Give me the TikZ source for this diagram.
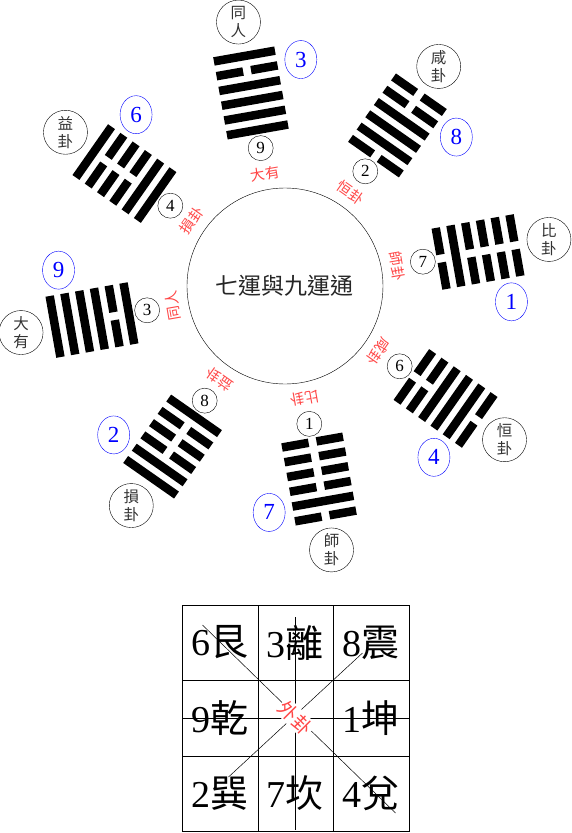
\documentclass[tikz,border=0pt]{standalone}
\usepackage{fontspec}
\setmainfont{Liberation Serif}
\newfontfamily\cjk{Noto Sans CJK TC}
\usepackage{xcolor}
\usepackage{tikz}
\usetikzlibrary{shapes.geometric,positioning}

\definecolor{labelred}{RGB}{255,70,70}
\definecolor{numblue}{RGB}{0,0,255}

\begin{document}
\begin{tikzpicture}[
    x=1pt, y=1pt,
    yangbar/.style={rectangle, fill=black, minimum width=62pt, minimum height=8.5pt, inner sep=0pt},
    yinbar/.style={rectangle, fill=black, minimum width=27pt, minimum height=8.5pt, inner sep=0pt},
    innername/.style={font=\cjk\fontsize{14.5}{14.5}\selectfont, text=labelred, inner sep=0pt},
    yaonum/.style={circle, draw, minimum size=25pt, inner sep=0pt, font=\fontsize{17}{17}\selectfont},
    outername/.style={circle, draw, minimum size=44pt, inner sep=0pt, align=center, text=black!80, font=\cjk\fontsize{15.5}{18}\selectfont},
    yunnum/.style={ellipse, draw=numblue, text=numblue, minimum width=32pt, minimum height=38pt, inner sep=0pt, font=\fontsize{23}{23}\selectfont},
    gridcell/.style={rectangle, draw, minimum size=75.5pt, inner sep=0pt, font=\fontsize{38}{38}\selectfont},
    crossline/.style={draw, line width=0.5pt}
]
\useasboundingbox (-285,-547) rectangle (287,286);

% centre
\node[circle, draw, minimum size=196pt, inner sep=0pt, font=\cjk\fontsize{23}{23}\selectfont, text=black!85] (core) at (0,0) {七運與九運通};

% 大有 / 同人 (top)
\node[innername, rotate=10] (in1) at (100:114) {大有};
\node[yaonum] (yn1) at (100:140) {9};
\begin{scope}[shift={(100:196)}, rotate=10, transform shape]
\node[yangbar] (dy1) at (0,-37.5) {};
\node[yangbar] (dy2) at (0,-22.5) {};
\node[yangbar] (dy3) at (0,-7.5) {};
\node[yangbar] (dy4) at (0,7.5) {};
\node[yinbar] (dy5a) at (-17.5,22.5) {}; \node[yinbar] (dy5b) at (17.5,22.5) {};
\node[yangbar] (dy6) at (0,37.5) {};
\end{scope}
\node[yunnum] (bn1) at (86:227) {3};
\node[outername] (on1) at (100:268) {同\\人};

% 恒卦 / 咸卦
\node[innername, rotate=-35] (in2) at (55:114) {恒卦};
\node[yaonum] (yn2) at (55:140) {2};
\begin{scope}[shift={(55:196)}, rotate=-35, transform shape]
\node[yinbar] (hg1a) at (-17.5,-37.5) {}; \node[yinbar] (hg1b) at (17.5,-37.5) {};
\node[yangbar] (hg2) at (0,-22.5) {};
\node[yangbar] (hg3) at (0,-7.5) {};
\node[yangbar] (hg4) at (0,7.5) {};
\node[yinbar] (hg5a) at (-17.5,22.5) {}; \node[yinbar] (hg5b) at (17.5,22.5) {};
\node[yinbar] (hg6a) at (-17.5,37.5) {}; \node[yinbar] (hg6b) at (17.5,37.5) {};
\end{scope}
\node[yunnum] (bn2) at (41:227) {8};
\node[outername] (on2) at (55:268) {咸\\卦};

% 師卦 / 比卦
\node[innername, rotate=-80] (in3) at (10:114) {師卦};
\node[yaonum] (yn3) at (10:140) {7};
\begin{scope}[shift={(10:196)}, rotate=-80, transform shape]
\node[yinbar] (sh1a) at (-17.5,-37.5) {}; \node[yinbar] (sh1b) at (17.5,-37.5) {};
\node[yangbar] (sh2) at (0,-22.5) {};
\node[yinbar] (sh3a) at (-17.5,-7.5) {}; \node[yinbar] (sh3b) at (17.5,-7.5) {};
\node[yinbar] (sh4a) at (-17.5,7.5) {}; \node[yinbar] (sh4b) at (17.5,7.5) {};
\node[yinbar] (sh5a) at (-17.5,22.5) {}; \node[yinbar] (sh5b) at (17.5,22.5) {};
\node[yinbar] (sh6a) at (-17.5,37.5) {}; \node[yinbar] (sh6b) at (17.5,37.5) {};
\end{scope}
\node[yunnum] (bn3) at (-4:227) {1};
\node[outername] (on3) at (10:268) {比\\卦};

% 咸卦 / 恒卦
\node[innername, rotate=-125] (in4) at (-35:114) {咸卦};
\node[yaonum] (yn4) at (-35:140) {6};
\begin{scope}[shift={(-35:196)}, rotate=-125, transform shape]
\node[yinbar] (xn1a) at (-17.5,-37.5) {}; \node[yinbar] (xn1b) at (17.5,-37.5) {};
\node[yinbar] (xn2a) at (-17.5,-22.5) {}; \node[yinbar] (xn2b) at (17.5,-22.5) {};
\node[yangbar] (xn3) at (0,-7.5) {};
\node[yangbar] (xn4) at (0,7.5) {};
\node[yangbar] (xn5) at (0,22.5) {};
\node[yinbar] (xn6a) at (-17.5,37.5) {}; \node[yinbar] (xn6b) at (17.5,37.5) {};
\end{scope}
\node[yunnum] (bn4) at (-49:227) {4};
\node[outername] (on4) at (-35:268) {恒\\卦};

% 比卦 / 師卦 (bottom)
\node[innername, rotate=-170] (in5) at (-80:114) {比卦};
\node[yaonum] (yn5) at (-80:140) {1};
\begin{scope}[shift={(-80:196)}, rotate=-170, transform shape]
\node[yinbar] (bi1a) at (-17.5,-37.5) {}; \node[yinbar] (bi1b) at (17.5,-37.5) {};
\node[yinbar] (bi2a) at (-17.5,-22.5) {}; \node[yinbar] (bi2b) at (17.5,-22.5) {};
\node[yinbar] (bi3a) at (-17.5,-7.5) {}; \node[yinbar] (bi3b) at (17.5,-7.5) {};
\node[yinbar] (bi4a) at (-17.5,7.5) {}; \node[yinbar] (bi4b) at (17.5,7.5) {};
\node[yangbar] (bi5) at (0,22.5) {};
\node[yinbar] (bi6a) at (-17.5,37.5) {}; \node[yinbar] (bi6b) at (17.5,37.5) {};
\end{scope}
\node[yunnum] (bn5) at (-94:227) {7};
\node[outername] (on5) at (-80:268) {師\\卦};

% 益卦 / 損卦
\node[innername, rotate=145] (in6) at (235:114) {益卦};
\node[yaonum] (yn6) at (235:140) {8};
\begin{scope}[shift={(235:196)}, rotate=145, transform shape]
\node[yangbar] (yi1) at (0,-37.5) {};
\node[yinbar] (yi2a) at (-17.5,-22.5) {}; \node[yinbar] (yi2b) at (17.5,-22.5) {};
\node[yinbar] (yi3a) at (-17.5,-7.5) {}; \node[yinbar] (yi3b) at (17.5,-7.5) {};
\node[yinbar] (yi4a) at (-17.5,7.5) {}; \node[yinbar] (yi4b) at (17.5,7.5) {};
\node[yangbar] (yi5) at (0,22.5) {};
\node[yangbar] (yi6) at (0,37.5) {};
\end{scope}
\node[yunnum] (bn6) at (221:227) {2};
\node[outername] (on6) at (235:268) {損\\卦};

% 同人 / 大有
\node[innername, rotate=100] (in7) at (190:114) {同人};
\node[yaonum] (yn7) at (190:140) {3};
\begin{scope}[shift={(190:196)}, rotate=100, transform shape]
\node[yangbar] (tr1) at (0,-37.5) {};
\node[yinbar] (tr2a) at (-17.5,-22.5) {}; \node[yinbar] (tr2b) at (17.5,-22.5) {};
\node[yangbar] (tr3) at (0,-7.5) {};
\node[yangbar] (tr4) at (0,7.5) {};
\node[yangbar] (tr5) at (0,22.5) {};
\node[yangbar] (tr6) at (0,37.5) {};
\end{scope}
\node[yunnum] (bn7) at (176:227) {9};
\node[outername] (on7) at (190:268) {大\\有};

% 損卦 / 益卦
\node[innername, rotate=55] (in8) at (145:114) {損卦};
\node[yaonum] (yn8) at (145:140) {4};
\begin{scope}[shift={(145:196)}, rotate=55, transform shape]
\node[yangbar] (sn1) at (0,-37.5) {};
\node[yangbar] (sn2) at (0,-22.5) {};
\node[yinbar] (sn3a) at (-17.5,-7.5) {}; \node[yinbar] (sn3b) at (17.5,-7.5) {};
\node[yinbar] (sn4a) at (-17.5,7.5) {}; \node[yinbar] (sn4b) at (17.5,7.5) {};
\node[yinbar] (sn5a) at (-17.5,22.5) {}; \node[yinbar] (sn5b) at (17.5,22.5) {};
\node[yangbar] (sn6) at (0,37.5) {};
\end{scope}
\node[yunnum] (bn8) at (131:227) {6};
\node[outername] (on8) at (145:268) {益\\卦};

% nine squares
\node[gridcell] (g11) at (-65,-356.5) {6{\cjk 艮}};
\node[gridcell] (g12) at (10.5,-356.5) {3{\cjk 離}};
\node[gridcell] (g13) at (86,-356.5) {8{\cjk 震}};
\node[gridcell] (g21) at (-65,-432) {9{\cjk 乾}};
\node[gridcell] (g22) at (10.5,-432) {};
\node[gridcell] (g23) at (86,-432) {1{\cjk 坤}};
\node[gridcell] (g31) at (-65,-507.5) {2{\cjk 巽}};
\node[gridcell] (g32) at (10.5,-507.5) {7{\cjk 坎}};
\node[gridcell] (g33) at (86,-507.5) {4{\cjk 兌}};

% cross through the middle
\coordinate (vtop) at (10.5,-331);
\coordinate (vbot) at (10.5,-544);
\coordinate (hlft) at (-102.75,-432);
\coordinate (hrgt) at (123.75,-432);
\coordinate (da1) at (-82.5,-339);
\coordinate (da2) at (110.5,-527);
\coordinate (db1) at (77.5,-367);
\coordinate (db2) at (-56.5,-491);
\draw[crossline] (vtop) -- (vbot);
\draw[crossline] (hlft) -- (hrgt);
\draw[crossline] (da1) -- (da2);
\draw[crossline] (db1) -- (db2);
\node[fill=white, inner sep=1.5pt, rotate=-45, text=labelred, font=\cjk\fontsize{19}{19}\selectfont] (outer) at (g22.center) {外卦};

\end{tikzpicture}
\end{document}
